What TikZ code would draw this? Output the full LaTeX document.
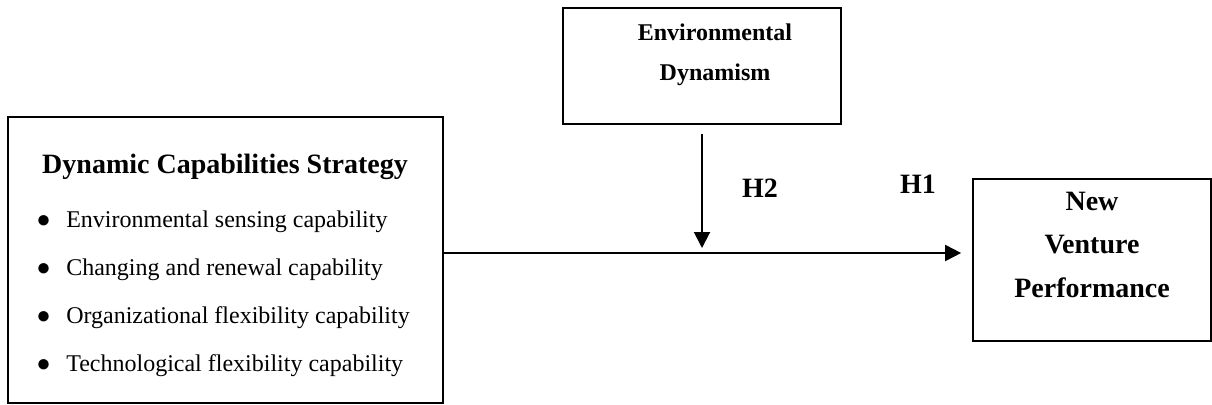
\documentclass[tikz,border=0pt]{standalone}
\usepackage{fontspec}
\setmainfont{Liberation Serif}
\usetikzlibrary{arrows.meta}

\begin{document}
\begin{tikzpicture}[x=0.75pt,y=-0.75pt]
\tikzset{box/.style = {draw, line width=1.3pt, inner sep=0pt}}
\tikzset{head/.style = {font=\fontsize{21}{25}\selectfont\bfseries, inner sep=0pt}}
\tikzset{smallhead/.style = {head, font=\fontsize{18}{22}\selectfont\bfseries}}
\tikzset{item/.style = {font=\fontsize{18}{22}\selectfont, inner sep=0pt, anchor=west}}
\tikzset{arr/.style = {line width=1.5pt, -{Triangle[length=12pt,width=12pt]}}}

\useasboundingbox (0,0) rectangle (1212,404);

% boxes
\node[box, minimum width=435*0.75pt, minimum height=286*0.75pt] (dcs) at (225.5,260) {};
\node[box, minimum width=278*0.75pt, minimum height=116*0.75pt] (ed) at (702,66) {};
\node[box, minimum width=238*0.75pt, minimum height=162*0.75pt] (nvp) at (1092,260) {};

% texts
\node[head] (dcst) at (225,167) {Dynamic Capabilities Strategy};
\node[smallhead] (ed1) at (715,32) {Environmental};
\node[smallhead] (ed2) at (715,75) {Dynamism};
\node[head] (nvp1) at (1092,201) {New};
\node[head] (nvp2) at (1092,245) {Venture};
\node[head] (nvp3) at (1092,288) {Performance};

\foreach \y/\name/\txt in {222/i1/Environmental sensing capability, 270/i2/Changing and renewal capability, 318/i3/Organizational flexibility capability, 366/i4/Technological flexibility capability}{
\node[item] (b\name) at (36,\y) {●};
\node[item] (\name) at (66,\y) {\txt};
}

% paths
\coordinate (h1start) at (443,253);
\coordinate (mod) at (702,253);
\draw[arr, shorten >=11*0.75pt] (h1start) -- (nvp.west |- h1start);
\draw[arr, shorten <=9*0.75pt, shorten >=5*0.75pt] (ed.south) -- (mod);

\node[head] (h2) at (760,188) {H2};
\node[head] (h1) at (918,184) {H1};
\end{tikzpicture}
\end{document}
